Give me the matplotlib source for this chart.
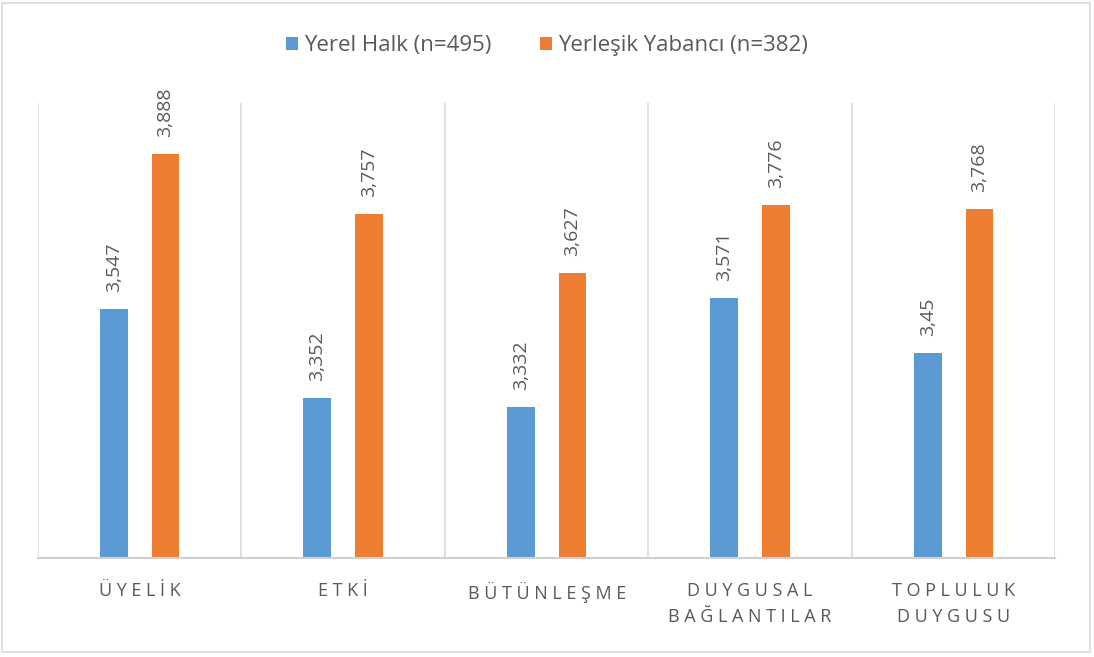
import matplotlib.pyplot as plt
import numpy as np
from matplotlib.patches import Rectangle

categories = ['Ü Y E L İ K', 'E T K İ', 'B Ü T Ü N L E Ş M E',
              'D U Y G U S A L\nB A Ğ L A N T I L A R', 'T O P L U L U K\nD U Y G U S U']
yerel = [3.547, 3.352, 3.332, 3.571, 3.45]
yabanci = [3.888, 3.757, 3.627, 3.776, 3.768]
yerel_lbl = ['3,547', '3,352', '3,332', '3,571', '3,45']
yabanci_lbl = ['3,888', '3,757', '3,627', '3,776', '3,768']

plt.rcParams['font.family'] = ['Open Sans', 'DejaVu Sans']

blue = '#5b9bd5'
orange = '#ed7d31'
grey_txt = '#595959'

fig = plt.figure(figsize=(10.94, 6.57), dpi=100)
ax = fig.add_axes([0.0347, 0.1507, 0.930, 0.692])

x = np.arange(len(categories))
w = 0.137
off = 0.127
base = 3.0
ax.bar(x - off, np.array(yerel) - base, w, bottom=base, color=blue, label='Yerel Halk (n=495)')
ax.bar(x + off, np.array(yabanci) - base, w, bottom=base, color=orange, label='Yerleşik Yabancı (n=382)')

for i in range(len(categories)):
    ax.text(x[i] - off, yerel[i] + 0.038, yerel_lbl[i], rotation=90, ha='center', va='bottom',
            fontsize=14, color=grey_txt)
    ax.text(x[i] + off, yabanci[i] + 0.038, yabanci_lbl[i], rotation=90, ha='center', va='bottom',
            fontsize=14, color=grey_txt)

for b in np.arange(-0.5, len(categories), 1.0):
    ax.axvline(b, color='#d9d9d9', lw=1.2, zorder=0)

ax.set_xlim(-0.5, len(categories) - 0.5)
ax.set_ylim(3.0, 4.0)
ax.set_yticks([])
ax.set_xticks(x)
ax.set_xticklabels(categories, fontsize=13, color=grey_txt, linespacing=1.6)
ax.tick_params(axis='x', length=0, pad=17)
for s in ['top', 'left', 'right']:
    ax.spines[s].set_visible(False)
ax.spines['bottom'].set_color('#d0d0d0')
ax.spines['bottom'].set_linewidth(1.5)

ax.legend(loc='center', bbox_to_anchor=(0.5, 1.127), ncol=2, frameon=False,
          fontsize=16, labelcolor=grey_txt, handlelength=0.55, handleheight=0.55,
          handletextpad=0.25, columnspacing=2.2)

fig.patches.append(Rectangle((0.002, 0.008), 0.994, 0.988, transform=fig.transFigure,
                             fill=False, edgecolor='#d9d9d9', lw=1.2))

plt.savefig('out.png', dpi=100)
